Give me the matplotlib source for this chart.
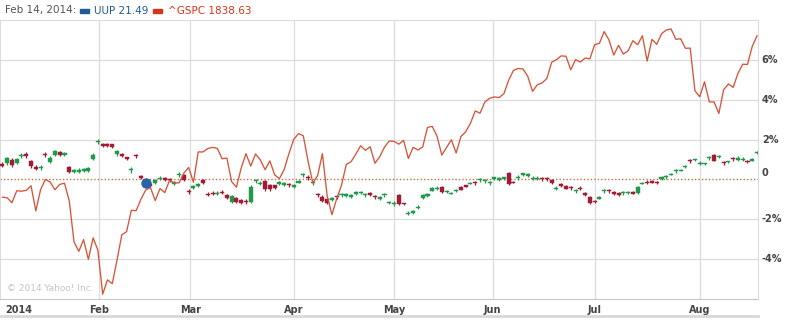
import matplotlib
matplotlib.use("Agg")
import matplotlib.pyplot as plt
from matplotlib.patches import Rectangle
from matplotlib.lines import Line2D
import numpy as np

# trading days Jan 2 .. Aug 19, 2014 (index 0..158), values in % vs 2013 close
gspc_pct = [
    -0.89, -0.92, -1.17, -0.57, -0.59, -0.55, -0.32, -1.58, -0.51, 0.00, -0.13,
    -0.52, -0.25, -0.19, -1.08, -3.14, -3.61, -3.02, -4.01, -2.93, -3.56,
    -5.76, -5.04, -5.23, -4.05, -2.78, -2.62, -1.55, -1.57, -1.00, -0.53,
    -0.41, -1.06, -0.46, -0.66, -0.04, -0.18, -0.17, 0.32, 0.60,
    -0.14, 1.38, 1.38, 1.55, 1.61, 1.56, 1.04, 1.07, -0.11, -0.39, 0.57,
    1.29, 0.67, 1.28, 0.98, 0.49, 0.93, 0.23, 0.04, 0.50, 1.30,
    2.01, 2.30, 2.19, 0.91, -0.18, 0.19, 1.29, -0.83, -1.77, -0.96, -0.29,
    0.75, 0.89, 1.27, 1.69, 1.46, 1.64, 0.81, 1.14, 1.62, 1.93,
    1.91, 1.77, 1.96, 1.05, 1.61, 1.48, 1.63, 2.61, 2.66, 2.17, 1.22,
    1.60, 1.99, 1.33, 2.15, 2.39, 2.82, 3.44, 3.32, 3.88, 4.07,
    4.14, 4.11, 4.30, 4.98, 5.47, 5.57, 5.54, 5.17, 4.42, 4.75, 4.84,
    5.07, 5.88, 6.01, 6.20, 6.18, 5.50, 6.01, 5.89, 6.09, 6.05,
    6.76, 6.83, 7.42, 7.00, 6.24, 6.73, 6.29, 6.45, 6.96, 6.76, 7.21,
    5.94, 7.03, 6.78, 7.31, 7.50, 7.55, 7.03, 7.06, 6.58, 6.59, 4.45,
    4.15, 4.90, 3.89, 3.89, 3.31, 4.50, 4.79, 4.62, 5.32, 5.78, 5.77,
    6.68, 7.21,
]

uup_open = [
    0.78, 0.81, 0.98, 0.84, 1.17, 1.30, 0.93, 0.64, 0.57, 1.25, 0.88, 1.24,
    1.38, 1.23, 0.61, 0.38, 0.39, 0.43, 0.41, 1.04, 1.87, 1.80, 1.78, 1.76,
    1.27, 1.30, 1.11, 0.46, 1.20, 0.16, -0.06, -0.23, -0.18, 0.04, 0.06,
    -0.01, -0.21, 0.21, 0.23, -0.59, -0.45, -0.35, -0.04, -0.72, -0.67,
    -0.71, -0.62, -0.79, -1.14, -0.93, -1.04, -1.09, -1.11, -0.10, -0.21,
    -0.09, -0.29, -0.29, -0.24, -0.28, -0.26, -0.38, -0.16, 0.21, 0.13,
    -0.20, -0.76, -0.86, -0.98, -1.05, -0.84, -0.80, -0.83, -0.88, -0.71,
    -0.68, -0.80, -0.66, -0.84, -0.98, -0.80, -1.18, -1.25, -0.77, -1.21,
    -1.71, -1.69, -1.43, -0.93, -0.83, -0.56, -0.46, -0.37, -0.63, -0.71,
    -0.58, -0.37, -0.28, -0.21, -0.14, -0.05, -0.10, -0.18, 0.01, -0.04,
    0.01, 0.32, -0.12, 0.07, 0.21, 0.18, 0.04, 0.04, 0.05, 0.05, -0.04,
    -0.46, -0.21, -0.32, -0.41, -0.58, -0.42, -0.68, -0.86, -1.09, -0.96,
    -0.58, -0.54, -0.61, -0.68, -0.68, -0.68, -0.61, -0.68, -0.21, -0.12,
    -0.06, -0.12, 0.01, 0.12, 0.24, 0.41, 0.42, 0.62, 0.95, 0.96, 0.79,
    0.76, 1.07, 1.24, 1.12, 0.88, 0.87, 1.06, 0.99, 0.99, 0.91, 0.93, 1.32,
]
uup_close = [
    0.68, 1.06, 0.73, 1.04, 1.21, 1.16, 0.69, 0.54, 0.61, 1.21, 1.08, 1.44,
    1.24, 1.33, 0.37, 0.48, 0.49, 0.53, 0.55, 1.24, 1.91, 1.66, 1.68, 1.62,
    1.41, 1.16, 1.01, 0.50, 1.16, 0.06, -0.16, -0.33, -0.04, 0.08, -0.04,
    -0.05, -0.11, 0.25, -0.01, -0.63, -0.31, -0.21, -0.18, -0.76, -0.71,
    -0.67, -0.66, -0.93, -0.84, -1.13, -1.18, -1.13, -0.37, -0.06, -0.17,
    -0.49, -0.49, -0.43, -0.14, -0.18, -0.30, -0.28, -0.06, 0.25, 0.09,
    -0.16, -0.80, -1.10, -1.18, -0.95, -0.88, -0.76, -0.73, -0.78, -0.61,
    -0.64, -0.76, -0.80, -0.88, -0.88, -0.76, -1.14, -1.21, -1.21, -1.25,
    -1.67, -1.59, -1.39, -0.79, -0.73, -0.42, -0.42, -0.61, -0.59, -0.67,
    -0.54, -0.51, -0.38, -0.17, -0.18, -0.01, -0.06, -0.14, 0.11, 0.06,
    0.11, -0.24, -0.16, 0.11, 0.31, 0.28, 0.08, 0.08, 0.01, 0.01, -0.18,
    -0.42, -0.35, -0.46, -0.45, -0.54, -0.46, -0.78, -1.20, -1.13, -0.86,
    -0.54, -0.58, -0.71, -0.78, -0.64, -0.64, -0.71, -0.38, -0.17, -0.16,
    -0.16, -0.16, 0.11, 0.16, 0.28, 0.45, 0.46, 0.66, 0.91, 1.00, 0.83,
    0.80, 1.11, 0.94, 1.16, 0.84, 0.91, 1.02, 1.09, 1.03, 0.87, 1.03, 1.36,
]
uup_high = [
    0.86, 1.14, 1.06, 1.10, 1.32, 1.36, 1.00, 0.70, 0.72, 1.36, 1.20, 1.50,
    1.42, 1.38, 0.66, 0.54, 0.55, 0.58, 0.62, 1.32, 2.02, 1.84, 1.82, 1.80,
    1.48, 1.34, 1.14, 0.64, 1.30, 0.22, 0.00, -0.18, 0.02, 0.18, 0.10,
    0.08, -0.06, 0.38, 0.28, -0.48, -0.26, -0.16, 0.00, -0.64, -0.60,
    -0.58, -0.54, -0.74, -0.78, -0.88, -1.00, -1.00, -0.30, 0.04, -0.10,
    -0.04, -0.24, -0.26, -0.10, -0.14, -0.18, -0.24, -0.02, 0.34, 0.22,
    -0.08, -0.68, -0.80, -0.94, -0.90, -0.76, -0.68, -0.68, -0.74, -0.56,
    -0.58, -0.70, -0.62, -0.76, -0.84, -0.68, -1.10, -1.10, -0.72, -1.18,
    -1.58, -1.54, -1.30, -0.74, -0.70, -0.38, -0.34, -0.32, -0.52, -0.64,
    -0.50, -0.34, -0.26, -0.14, -0.06, 0.06, 0.02, -0.06, 0.14, 0.10,
    0.14, 0.36, -0.08, 0.20, 0.34, 0.32, 0.16, 0.16, 0.12, 0.12, 0.00,
    -0.34, -0.18, -0.28, -0.34, -0.46, -0.34, -0.64, -0.82, -1.04, -0.82,
    -0.46, -0.46, -0.56, -0.64, -0.56, -0.60, -0.58, -0.34, -0.14, -0.04,
    -0.02, -0.06, 0.16, 0.24, 0.34, 0.54, 0.50, 0.70, 1.04, 1.04, 0.92,
    0.84, 1.20, 1.28, 1.24, 0.90, 0.94, 1.14, 1.16, 1.12, 0.98, 1.06, 1.44,
]
uup_low = [
    0.60, 0.70, 0.62, 0.78, 1.06, 1.10, 0.58, 0.46, 0.47, 1.12, 0.80, 1.18,
    1.20, 1.18, 0.30, 0.32, 0.34, 0.38, 0.36, 0.96, 1.76, 1.62, 1.64, 1.58,
    1.20, 1.12, 0.98, 0.32, 1.06, 0.00, -0.22, -0.38, -0.24, -0.04, -0.08,
    -0.14, -0.26, 0.12, -0.06, -0.74, -0.50, -0.40, -0.22, -0.84, -0.80,
    -0.80, -0.74, -0.98, -1.20, -1.18, -1.24, -1.22, -1.16, -0.16, -0.26,
    -0.56, -0.56, -0.48, -0.28, -0.32, -0.38, -0.42, -0.20, 0.14, -0.02,
    -0.28, -0.88, -1.14, -1.22, -1.10, -0.96, -0.88, -0.88, -0.92, -0.76,
    -0.74, -0.86, -0.84, -0.96, -1.02, -0.88, -1.22, -1.34, -1.28, -1.30,
    -1.80, -1.74, -1.50, -0.98, -0.86, -0.60, -0.54, -0.66, -0.70, -0.74,
    -0.62, -0.54, -0.40, -0.24, -0.26, -0.12, -0.18, -0.26, -0.02, -0.06,
    -0.02, -0.30, -0.20, -0.02, 0.18, 0.14, -0.02, -0.02, -0.06, -0.06, -0.22,
    -0.54, -0.38, -0.50, -0.52, -0.66, -0.54, -0.82, -1.24, -1.18, -1.00,
    -0.66, -0.66, -0.76, -0.82, -0.76, -0.72, -0.74, -0.72, -0.24, -0.24,
    -0.20, -0.24, -0.02, 0.04, 0.20, 0.34, 0.40, 0.58, 0.82, 0.92, 0.70,
    0.72, 0.98, 0.90, 1.10, 0.70, 0.84, 0.94, 0.94, 0.92, 0.80, 0.90, 1.30,
]

month_labels = ["Feb", "Mar", "Apr", "May", "Jun", "Jul", "Aug"]
month_pos = [20.33, 39.33, 61, 82, 102.67, 124, 146]
y_ticks = [-4, -2, 0, 2, 4, 6]
y_labels = ["-4%", "-2%", "0", "2%", "4%", "6%"]

hover_idx = 30
hover_date = "Feb 14, 2014:"
uup_label = "UUP 21.49"
gspc_label = "^GSPC 1838.63"

GREEN = "#1f9a4b"
RED = "#a01b35"
LINE = "#d4553a"
GRID = "#dcdcdc"

W, H = 789, 321
fig = plt.figure(figsize=(W / 100, H / 100), dpi=100)
ax = fig.add_axes([0, 1 - 299 / H, 758 / W, 279 / H])

x = np.arange(len(gspc_pct))
o = np.array(uup_open)
c = np.array(uup_close)
hi = np.array(uup_high)
lo = np.array(uup_low)
up = c >= o
colors = np.where(up, GREEN, RED)

ax.set_xlim(-0.5, 158.2)
ax.set_ylim(-6, 8)

for yv in [-4, -2, 2, 4, 6]:
    ax.axhline(yv, color=GRID, lw=0.9, zorder=0)
for xv in month_pos:
    ax.axvline(xv, color=GRID, lw=0.9, zorder=0)
ax.axhline(0, color="#c9703f", lw=1.0, ls=(0, (1, 1.5)), zorder=1)

# candles
ax.vlines(x, lo, hi, colors=colors, lw=0.9, zorder=2)
body_h = np.maximum(np.abs(c - o), 0.05)
ax.bar(x, body_h, bottom=np.minimum(o, c), width=0.85, color=colors,
       edgecolor=colors, linewidth=0.3, zorder=3)

ax.plot(x, gspc_pct, color=LINE, lw=0.95, zorder=4)
ax.plot(x[hover_idx], c[hover_idx], "o", ms=6.5, color="#2a62a8",
        mec="#2a62a8", zorder=5)

for s in ["left", "top", "right"]:
    ax.spines[s].set_color(GRID)
ax.spines["bottom"].set_color("#c8c8c8")
ax.set_xticks([])
ax.set_yticks([])

tick_font = dict(fontsize=7, color="#444444", fontweight="bold",
                 family="DejaVu Sans")
for xv, lab in zip(month_pos, month_labels):
    ax.text(xv, -6.3, lab, ha="center", va="top", **tick_font)
ax.text(0.5, -6.3, "2014", ha="left", va="top", **tick_font)

for yv, lab in zip(y_ticks, y_labels):
    ty = yv + (0.3 if yv == 0 else 0)
    ax.text(159.0, ty, lab, ha="left", va="center", clip_on=False,
            **tick_font)

ax.text(1, -5.45, "\u00a9 2014 Yahoo! Inc.", fontsize=6.5, color="#c4c4c4",
        ha="left", va="center")

# header
fig.text(5 / W, 1 - 10.5 / H, hover_date, fontsize=7.5, color="#555555",
         ha="left", va="center")
fig.patches.append(Rectangle((80 / W, 1 - 13 / H), 9 / W, 4 / H,
                             transform=fig.transFigure, color="#225a94"))
fig.text(94 / W, 1 - 10.5 / H, uup_label, fontsize=7.5, color="#225a94",
         ha="left", va="center")
fig.patches.append(Rectangle((153 / W, 1 - 13 / H), 9 / W, 4 / H,
                             transform=fig.transFigure, color="#d8341c"))
fig.text(168 / W, 1 - 10.5 / H, gspc_label, fontsize=7.5, color="#d8341c",
         ha="left", va="center")

fig.add_artist(Line2D([0, 758 / W], [1 - 316 / H, 1 - 316 / H],
                      transform=fig.transFigure, color="#d8d8d8", lw=2))

fig.savefig("out.png", dpi=100)
